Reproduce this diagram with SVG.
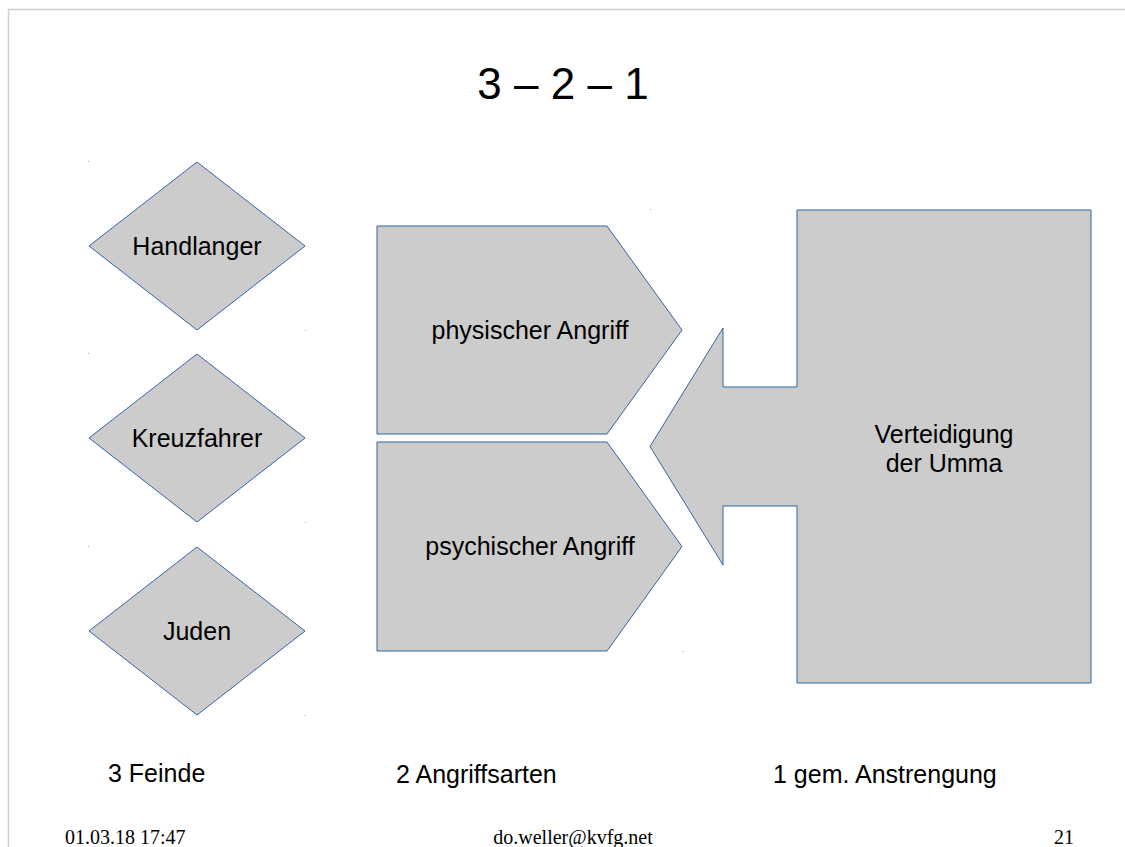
<svg xmlns="http://www.w3.org/2000/svg" width="1125" height="847" viewBox="0 0 1125 847">
<style>
.shape{fill:#cccccc;stroke:#3465a4;stroke-width:1}
.lbl{font-family:"Liberation Sans",Arial,sans-serif;font-size:25px;fill:#000;text-anchor:middle}
.cap{font-family:"Liberation Sans",Arial,sans-serif;font-size:25px;fill:#000}
.foot{font-family:"Liberation Serif","Times New Roman",serif;font-size:20px;fill:#000}
.dot{fill:#8ea6cf}
</style>
<rect width="1125" height="847" fill="#fff"/>
<g id="frame" fill="none" stroke="#cfcfcf" stroke-width="1.5">
<path d="M8.5,847 L8.5,9.5 L1125,9.5"/>
</g>
<text id="title" x="563" y="99" font-family="'Liberation Sans',Arial,sans-serif" font-size="44" text-anchor="middle">3 – 2 – 1</text>
<g id="handlanger">
<polygon class="shape" points="197,162 305,246 197,330 89,246"/>
<text class="lbl" x="197" y="255">Handlanger</text>
</g>
<g id="kreuzfahrer">
<polygon class="shape" points="197,354 305,438 197,522 89,438"/>
<text class="lbl" x="197" y="447">Kreuzfahrer</text>
</g>
<g id="juden">
<polygon class="shape" points="197,547 305,631 197,715 89,631"/>
<text class="lbl" x="197" y="640">Juden</text>
</g>
<g id="physisch">
<polygon class="shape" points="377,226 607,226 682,330 607,434 377,434"/>
<text class="lbl" x="530" y="339">physischer Angriff</text>
</g>
<g id="psychisch">
<polygon class="shape" points="377,442 607,442 682,546.5 607,651 377,651"/>
<text class="lbl" x="530" y="555">psychischer Angriff</text>
</g>
<g id="verteidigung">
<path class="shape" d="M650,446.5 L723,328 L723,387 L797,387 L797,210 L1091,210 L1091,683 L797,683 L797,506 L723,506 L723,565 Z"/>
<text class="lbl" x="944" y="443">Verteidigung</text>
<text class="lbl" x="944" y="472">der Umma</text>
</g>
<g id="connectors"></g>
<g id="handles">
<rect class="dot" x="88" y="161" width="1" height="1"/>
<rect class="dot" x="305" y="330" width="1" height="1"/>
<rect class="dot" x="88" y="353" width="1" height="1"/>
<rect class="dot" x="305" y="522" width="1" height="1"/>
<rect class="dot" x="88" y="546" width="1" height="1"/>
<rect class="dot" x="305" y="715" width="1" height="1"/>
<rect class="dot" x="650" y="209" width="1" height="1"/>
<rect class="dot" x="682" y="651" width="1" height="1"/>
</g>
<g id="captions">
<text class="cap" x="108" y="782">3 Feinde</text>
<text class="cap" x="396" y="783">2 Angriffsarten</text>
<text class="cap" x="773" y="783">1 gem. Anstrengung</text>
</g>
<g id="footer">
<text class="foot" x="65" y="844">01.03.18 17:47</text>
<text class="foot" x="573" y="844" text-anchor="middle">do.weller@kvfg.net</text>
<text class="foot" x="1074" y="844" text-anchor="end">21</text>
</g>
</svg>
